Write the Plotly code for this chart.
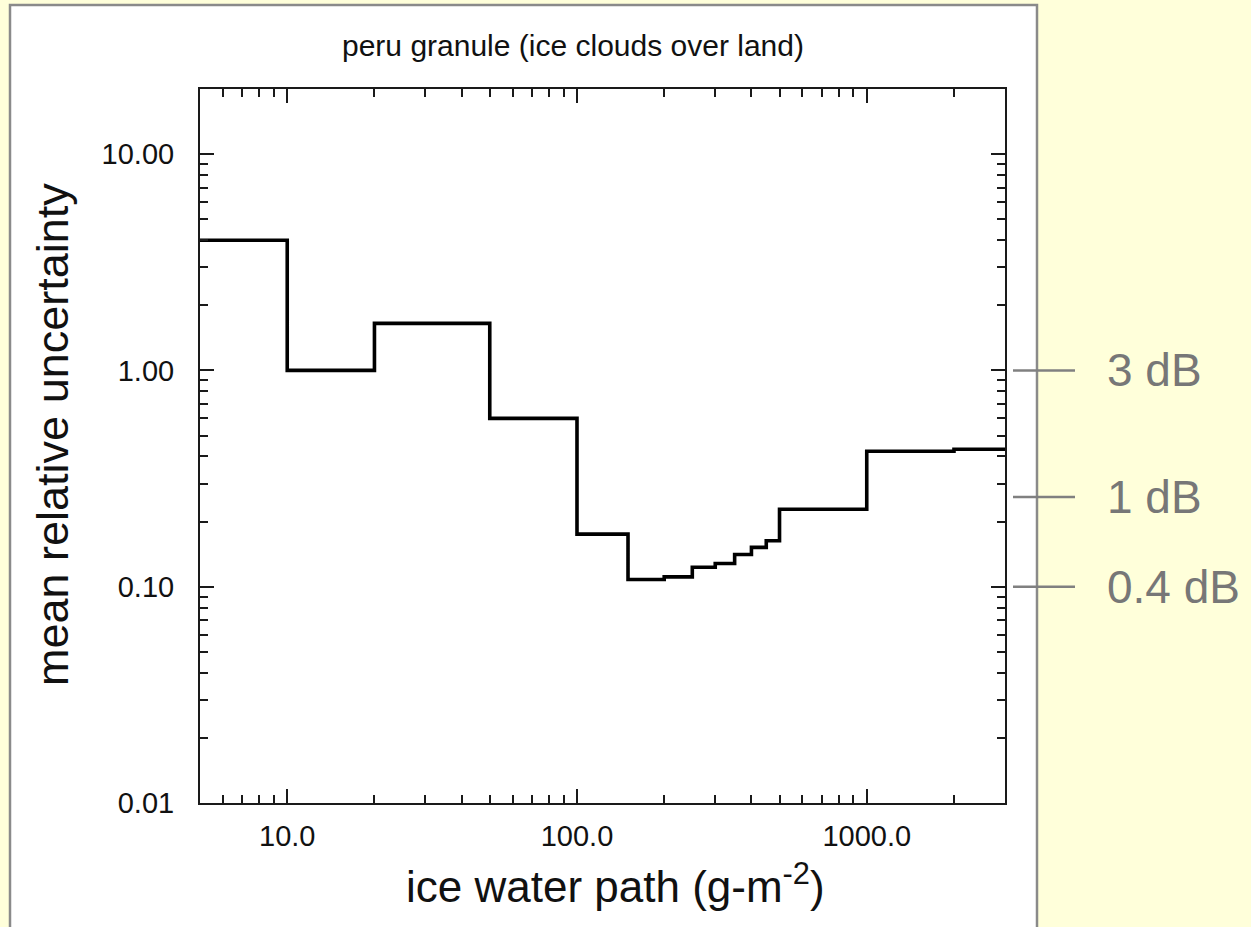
import math
import plotly.graph_objects as go

# Ice water path bin edges (g m^-2) and mean relative uncertainty per bin
iwp_edges = [5, 10, 20, 50, 100, 150, 200, 250, 300, 350, 400, 450, 500, 1000, 2000, 3000]
mean_rel_unc = [4.0, 1.0, 1.65, 0.6, 0.175, 0.108, 0.111, 0.123, 0.128, 0.141,
                0.152, 0.163, 0.228, 0.423, 0.432]

# Axis ticks
x_major = [10, 100, 1000]
x_major_text = ["10.0", "100.0", "1000.0"]
x_minor = [6, 7, 8, 9, 20, 30, 40, 50, 60, 70, 80, 90,
           200, 300, 400, 500, 600, 700, 800, 900, 2000]
y_major = [0.01, 0.1, 1, 10]
y_major_text = ["0.01", "0.10", "1.00", "10.00"]
y_minor = [m * d for d in (0.01, 0.1, 1) for m in range(2, 10)]

# Reference levels in dB marked on the right
db_labels = ["3 dB", "1 dB", "0.4 dB"]
db_levels = [1.0, 0.26, 0.1]

X_RANGE = (5, 3000)
Y_RANGE = (0.01, 20)

W, H = 1251, 927
ML, MR, MT, MB = 200, 246, 89, 124
PW, PH = W - ML - MR, H - MT - MB


def px_x(p):
    return (p - ML) / PW


def px_y(p):
    return (H - MB - p) / PH


def val_y(v):
    lo, hi = math.log10(Y_RANGE[0]), math.log10(Y_RANGE[1])
    return (math.log10(v) - lo) / (hi - lo)


FONT = "Liberation Sans, Arial, Helvetica, sans-serif"
BG = "#FFFFDA"

x_step = iwp_edges
y_step = mean_rel_unc + [mean_rel_unc[-1]]

fig = go.Figure()
fig.add_trace(go.Scatter(
    x=x_step, y=y_step, mode="lines", line_shape="hv",
    line=dict(color="black", width=3.6), showlegend=False, hoverinfo="skip",
))

axis_common = dict(
    type="log", showgrid=False, zeroline=False, showline=True,
    linecolor="#1a1a1a", linewidth=2, mirror="ticks",
    ticks="inside", ticklen=14, tickwidth=2, tickcolor="#1a1a1a",
    tickfont=dict(family=FONT, size=29, color="#111"),
)

fig.update_xaxes(
    **axis_common,
    range=[math.log10(X_RANGE[0]), math.log10(X_RANGE[1])],
    tickmode="array", tickvals=x_major, ticktext=x_major_text,
    minor=dict(tickmode="array", tickvals=x_minor, ticks="inside",
               ticklen=8, tickwidth=2, tickcolor="#1a1a1a"),
    ticklabelstandoff=6,
)
fig.update_yaxes(
    **axis_common,
    range=[math.log10(Y_RANGE[0]), math.log10(Y_RANGE[1])],
    tickmode="array", tickvals=y_major, ticktext=y_major_text,
    minor=dict(tickmode="array", tickvals=y_minor, ticks="inside",
               ticklen=8, tickwidth=2, tickcolor="#1a1a1a"),
    ticklabelstandoff=18,
)

shapes = [
    # white panel behind the chart
    dict(type="rect", xref="paper", yref="paper",
         x0=px_x(10), x1=px_x(1037), y0=px_y(940), y1=px_y(5),
         fillcolor="white", line=dict(color="#8a8a8a", width=2.5), layer="below"),
]
annotations = [
    dict(text="peru granule (ice clouds over land)", xref="paper", yref="paper",
         x=px_x(573), y=px_y(46), xanchor="center", yanchor="middle",
         showarrow=False, font=dict(family=FONT, size=30, color="#111")),
    dict(text="ice water path (g-m<sup>-2</sup>)", xref="paper", yref="paper",
         x=px_x(615), y=px_y(883), xanchor="center", yanchor="middle",
         showarrow=False, font=dict(family=FONT, size=44, color="#111")),
    dict(text="mean relative uncertainty", xref="paper", yref="paper",
         x=px_x(52), y=px_y(435), xanchor="center", yanchor="middle",
         textangle=-90, showarrow=False, font=dict(family=FONT, size=45, color="#111")),
]
for lab, lev in zip(db_labels, db_levels):
    yp = val_y(lev)
    shapes.append(dict(type="line", xref="paper", yref="paper",
                       x0=px_x(1013), x1=px_x(1075), y0=yp, y1=yp,
                       line=dict(color="#808080", width=2.5)))
    annotations.append(dict(text=lab, xref="paper", yref="paper",
                            x=px_x(1105), y=yp, xanchor="left", yanchor="middle",
                            showarrow=False,
                            font=dict(family=FONT, size=46, color="#777777")))

fig.update_layout(
    width=W, height=H,
    margin=dict(l=ML, r=MR, t=MT, b=MB, pad=0),
    paper_bgcolor=BG, plot_bgcolor="white",
    shapes=shapes, annotations=annotations,
    showlegend=False,
)

fig.write_html("out.html")
